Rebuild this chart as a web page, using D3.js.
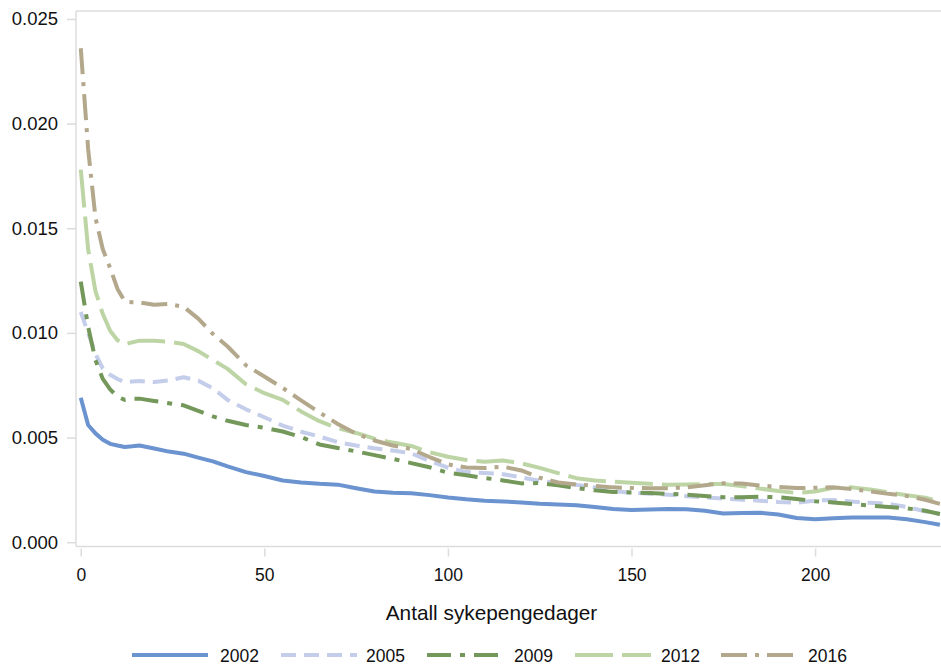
<!DOCTYPE html>
<meta charset="utf-8">
<script src="https://d3js.org/d3.v7.min.js"></script>
<style>
  body { margin: 0; background: #fff; }
  text { font-family: "Liberation Sans", Arial, sans-serif; fill: #111; }
</style>
<div id="chart"></div>
<script>

// days on the x axis
const days = [0,2,4,6,8,10,12,14,16,20,24,28,32,36,40,45,50,55,60,65,70,75,80,85,90,95,
  100,105,110,115,120,125,130,135,140,145,150,155,160,165,170,175,180,185,190,195,
  200,205,210,215,220,225,230,234];

const v2002 = [0.0069,0.0056,0.0052,0.0049,0.0047,0.00462,0.00455,0.00458,0.00462,0.00448,0.00433,0.00423,
  0.00404,0.00386,0.00362,0.00335,0.00316,0.00295,0.00285,0.00279,0.00275,0.00258,0.00242,0.00236,0.00234,0.00225,
  0.00214,0.00205,0.00198,0.00195,0.0019,0.00184,0.0018,0.00177,0.00168,0.00159,0.00154,0.00156,0.00159,0.00157,
  0.0015,0.00137,0.00139,0.00141,0.00132,0.00116,0.0011,0.00114,0.00118,0.00118,0.00118,0.0011,0.00096,0.00083];

const v2005 = [0.0110,0.0100,0.0090,0.0083,0.0080,0.0078,0.00764,0.00768,0.0077,0.00765,0.00773,0.00788,
  0.00772,0.00735,0.0068,0.00635,0.00597,0.00557,0.00528,0.00505,0.00478,0.00462,0.00449,0.00438,0.00425,0.00388,
  0.00356,0.00335,0.00331,0.00325,0.0031,0.00293,0.00284,0.00274,0.00262,0.00245,0.00236,0.00232,0.00227,0.0022,
  0.00214,0.00208,0.00203,0.00198,0.00192,0.00188,0.00199,0.00202,0.00194,0.00188,0.00183,0.00168,0.00148,0.00135];

const v2009 = [0.01245,0.0103,0.0087,0.0078,0.0073,0.00695,0.0068,0.00686,0.00686,0.00675,0.00664,0.00654,
  0.00628,0.00601,0.0058,0.0056,0.00547,0.00529,0.00503,0.00467,0.0045,0.00434,0.00416,0.00398,0.00378,0.00358,
  0.00332,0.0032,0.00307,0.00295,0.00281,0.00283,0.00272,0.00259,0.00248,0.0024,0.00238,0.00235,0.00231,0.00227,
  0.00221,0.00215,0.00215,0.00217,0.00215,0.00206,0.00196,0.0019,0.00183,0.00175,0.00168,0.00162,0.0015,0.00135];

const v2012 = [0.0178,0.0140,0.0120,0.0109,0.0101,0.00965,0.00945,0.00955,0.00963,0.00962,0.00958,0.00947,
  0.00913,0.0087,0.00828,0.00755,0.00712,0.0068,0.00625,0.00578,0.00545,0.00522,0.00495,0.00476,0.0046,0.0043,
  0.00408,0.00393,0.00384,0.0039,0.00377,0.00355,0.0033,0.00306,0.00295,0.00289,0.00284,0.00279,0.00274,0.00276,
  0.00278,0.00278,0.00268,0.00256,0.00245,0.00235,0.00242,0.0026,0.00262,0.00252,0.00238,0.00224,0.00213,0.00195];

const v2016 = [0.0236,0.0188,0.0155,0.0140,0.0131,0.0121,0.0115,0.01147,0.01145,0.01135,0.01138,0.01125,
  0.01068,0.00995,0.00935,0.00845,0.00792,0.00737,0.00678,0.0062,0.00565,0.00518,0.00486,0.00462,0.00445,0.00407,
  0.00372,0.00357,0.00354,0.00361,0.00343,0.00308,0.00285,0.00276,0.00269,0.00262,0.00259,0.00258,0.00258,0.00262,
  0.00272,0.00282,0.0028,0.00271,0.00264,0.00259,0.0026,0.00262,0.00254,0.00243,0.00231,0.00221,0.00203,0.00183];

const years = ["2002", "2005", "2009", "2012", "2016"];
const xTicks = [0, 50, 100, 150, 200];
const yTicks = [0, 0.005, 0.010, 0.015, 0.020, 0.025];

const series = [
  {name: years[0], values: v2002, color: "#6b93cf", dash: null},
  {name: years[1], values: v2005, color: "#c4cde9", dash: "15,8"},
  {name: years[2], values: v2009, color: "#73985a", dash: "24,9,5,9"},
  {name: years[3], values: v2012, color: "#bdd5a5", dash: "38,9"},
  {name: years[4], values: v2016, color: "#b4a88c", dash: "26,8,4,8"}
];

const W = 941, H = 665;
const m = {left: 76, right: 941, top: 11, bottom: 546.5};

const svg = d3.select("#chart").append("svg")
  .attr("width", W).attr("height", H);

const x = d3.scaleLinear().domain([-1.3, 234.3]).range([m.left, m.right]);
const y = d3.scaleLinear().domain([-0.000205, 0.02538]).range([m.bottom, m.top]);

// frame top
svg.append("line").attr("x1", m.left).attr("x2", m.right).attr("y1", m.top).attr("y2", m.top)
  .attr("stroke", "#dcdcdc").attr("stroke-width", 1.5);

// y axis
const yAxis = svg.append("g")
  .attr("transform", `translate(${m.left},0)`)
  .call(d3.axisLeft(y).tickValues(yTicks).tickFormat(d3.format(".3f")).tickSize(9).tickPadding(9));
yAxis.select(".domain").attr("stroke", "#dcdcdc").attr("stroke-width", 1.5)
  .attr("d", `M0,${m.top}V${m.bottom}`);
yAxis.selectAll(".tick line").attr("stroke", "#dcdcdc").attr("stroke-width", 1.5);
yAxis.selectAll(".tick text").style("font-size", "18.5px").attr("fill", "#111");

// x axis
const xAxis = svg.append("g")
  .attr("transform", `translate(0,${m.bottom})`)
  .call(d3.axisBottom(x).tickValues(xTicks).tickSize(0).tickPadding(22));
xAxis.select(".domain").attr("stroke", "#dcdcdc").attr("stroke-width", 1.5)
  .attr("d", `M${m.left},0H${m.right}`);
xAxis.selectAll(".tick").append("line")
  .attr("y1", 2).attr("y2", 10).attr("stroke", "#dcdcdc").attr("stroke-width", 1.5);
xAxis.selectAll(".tick text").style("font-size", "17.5px").attr("fill", "#111");

svg.append("text")
  .attr("x", 491.5).attr("y", 620)
  .attr("text-anchor", "middle").style("font-size", "20.8px")
  .text("Antall sykepengedager");

// lines
svg.append("clipPath").attr("id", "clip")
  .append("rect").attr("x", m.left).attr("y", m.top)
  .attr("width", m.right - m.left).attr("height", m.bottom - m.top);

const line = d3.line()
  .x((d, i) => x(days[i]))
  .y(d => y(d));

svg.append("g").attr("clip-path", "url(#clip)")
  .selectAll("path")
  .data(series)
  .join("path")
    .attr("d", d => line(d.values))
    .attr("fill", "none")
    .attr("stroke", d => d.color)
    .attr("stroke-width", 4)
    .attr("stroke-dasharray", d => d.dash)
    .attr("stroke-linejoin", "round");

// legend
const legX = [132, 281, 427, 575, 721];
const legTextX = [220, 366, 514, 661, 808];
const legend = svg.append("g");
series.forEach((s, i) => {
  legend.append("line").attr("x1", legX[i]).attr("x2", legX[i] + 76).attr("y1", 655).attr("y2", 655)
    .attr("stroke", s.color).attr("stroke-width", 4).attr("stroke-dasharray", s.dash);
  legend.append("text").attr("x", legTextX[i]).attr("y", 661.5)
    .style("font-size", "17.5px").text(s.name);
});
</script>
